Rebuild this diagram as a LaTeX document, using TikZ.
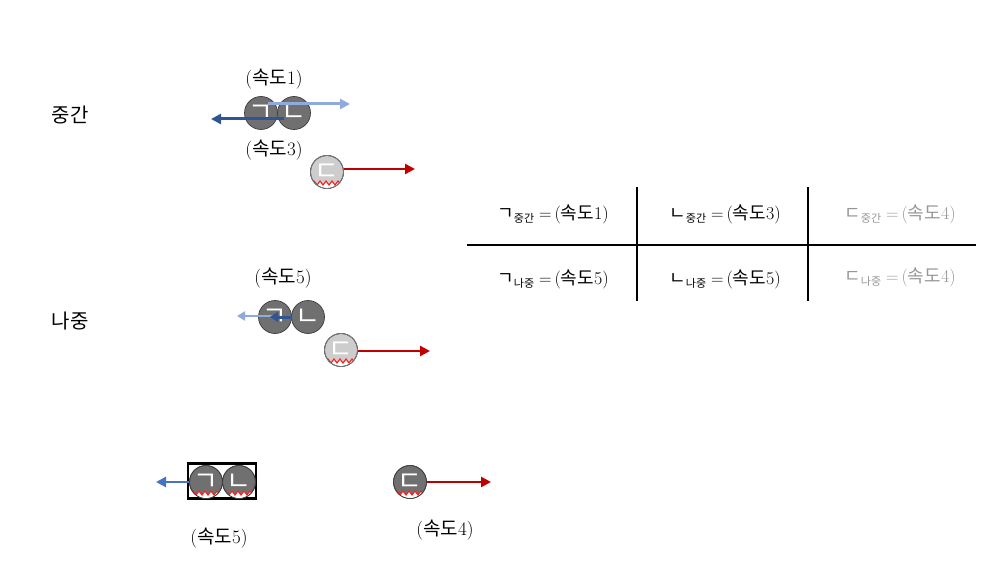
\documentclass[tikz,border=0pt]{standalone}
\usepackage{fontspec}
\newfontfamily\kr{Noto Sans CJK KR}
\usetikzlibrary{arrows.meta}
\definecolor{ballD}{RGB}{112,112,112}
\definecolor{ballL}{RGB}{205,205,205}
\definecolor{edgeD}{RGB}{60,60,60}
\definecolor{edgeL}{RGB}{120,120,120}
\definecolor{blueD}{RGB}{47,85,151}
\definecolor{blueL}{RGB}{143,170,220}
\definecolor{blueM}{RGB}{68,114,196}
\definecolor{redA}{RGB}{192,0,0}
\definecolor{zigred}{RGB}{255,30,30}
\definecolor{grayT}{RGB}{150,150,150}
\newcommand{\sdo}[1]{({\kr 속도}#1)}
\newcommand{\cell}[3]{{\kr #1}\raisebox{-0.45ex}{\fontsize{11}{12}\selectfont\kr #2}\;$=$\,\sdo{#3}}
\tikzset{
  ballD/.style={circle,fill=ballD,draw=edgeD,line width=0.7pt,minimum size=33pt,inner sep=0pt,
    text=white,font=\fontsize{27}{27}\selectfont\kr},
  ballL/.style={ballD,fill=ballL,draw=edgeL},
  lbl/.style={font=\fontsize{19}{22}\selectfont,inner sep=0pt},
  side/.style={font=\fontsize{20}{22}\selectfont\kr,inner sep=0pt},
  cellt/.style={font=\fontsize{18}{20}\selectfont,inner sep=0pt},
  arr/.style={line width=3pt,-{Triangle[length=10pt,width=10pt]}},
  zig/.pic={
    \begin{scope}
      \clip (0,0) circle (16.2);
      \fill[white] (-17,9) -- (-13,9) -- (-10,13) -- (-7,9) -- (-4,13) -- (-1,9) -- (2,13) -- (5,9) -- (8,13) -- (11,9) -- (14,13) -- (17,9) -- (17,20) -- (-17,20) -- cycle;
      \draw[zigred,line width=1.1pt] (-17,9) -- (-13,9) -- (-10,13) -- (-7,9) -- (-4,13) -- (-1,9) -- (2,13) -- (5,9) -- (8,13) -- (11,9) -- (14,13) -- (17,9);
    \end{scope}
    \draw[edgeD,line width=0.7pt] (0,0) circle (16.5);
  }
}
\begin{document}
\begin{tikzpicture}[x=1pt,y=-1pt]
\useasboundingbox (0,0) rectangle (1000,572);
% side labels
\node[side] (mid) at (70,115) {중간};
\node[side] (late) at (70,321) {나중};

% ---- top row (중간)
\node[lbl] (l1) at (274,79) {\sdo{1}};
\node[ballD] (t1) at (261,113) {ㄱ};
\node[ballD] (t2) at (294,113) {ㄴ};
\coordinate (t1s) at (268,104);
\coordinate (t1e) at (350,104);
\coordinate (t2s) at (284,119);
\coordinate (t2e) at (211,119);
\draw[arr,blueL] (t1s) -- (t1e);
\draw[arr,blueD] (t2s) -- (t2e);
\node[lbl] (l3) at (274,150) {\sdo{3}};
\node[ballL,draw=edgeL] (t3) at (327,172) {ㄷ};
\pic at (t3) {zig};
\draw[edgeL,line width=0.7pt] (t3) circle (16.5);
\coordinate (t3s) at (343.5,169);
\coordinate (t3e) at (415,169);
\draw[arr,redA,line width=2.6pt] (t3s) -- (t3e);

% ---- middle row (나중)
\node[lbl] (l5) at (283,278) {\sdo{5}};
\node[ballD] (m1) at (275,317) {ㄱ};
\node[ballD] (m2) at (308,317) {ㄴ};
\coordinate (m1s) at (276,316);
\coordinate (m1e) at (237,316);
\coordinate (m2s) at (292,317);
\coordinate (m2e) at (270,317);
\draw[arr,blueL,line width=2.6pt,-{Triangle[length=8pt,width=9pt]}] (m1s) -- (m1e);
\draw[arr,blueD,line width=3pt,-{Triangle[length=8pt,width=10pt]}] (m2s) -- (m2e);
\node[ballL] (m3) at (341,350) {ㄷ};
\pic at (m3) {zig};
\draw[edgeL,line width=0.7pt] (m3) circle (16.5);
\coordinate (m3s) at (357.5,351);
\coordinate (m3e) at (430,351);
\draw[arr,redA,line width=2.6pt] (m3s) -- (m3e);

% ---- bottom row
\node[draw=black,line width=2.2pt,minimum width=68pt,minimum height=35pt,inner sep=0pt] (box) at (222,481) {};
\node[ballD] (b1) at (206,482) {ㄱ};
\node[ballD] (b2) at (239,482) {ㄴ};
\pic at (b1) {zig};
\pic at (b2) {zig};
\coordinate (b1e) at (156,482);
\draw[arr,blueM,line width=2.8pt] (b1.west) -- (b1e);
\node[ballD] (b3) at (410,482) {ㄷ};
\pic at (b3) {zig};
\coordinate (b3e) at (491,482);
\draw[arr,redA,line width=2.6pt] (b3.east) -- (b3e);
\node[lbl] (l5b) at (219,538) {\sdo{5}};
\node[lbl] (l4b) at (445,530) {\sdo{4}};

% ---- table
\coordinate (hl) at (467,245);
\coordinate (hr) at (976,245);
\coordinate (v1t) at (637,187);
\coordinate (v1b) at (637,301);
\coordinate (v2t) at (808,187);
\coordinate (v2b) at (808,301);
\draw[line width=1.5pt] (hl) -- (hr);
\draw[line width=1.5pt] (v1t) -- (v1b);
\draw[line width=1.5pt] (v2t) -- (v2b);
\node[cellt] (c11) at (553,214) {\cell{ㄱ}{중간}{1}};
\node[cellt] (c12) at (725,214) {\cell{ㄴ}{중간}{3}};
\node[cellt,text=grayT] (c13) at (900,214) {\cell{ㄷ}{중간}{4}};
\node[cellt] (c21) at (553,279) {\cell{ㄱ}{나중}{5}};
\node[cellt] (c22) at (725,279) {\cell{ㄴ}{나중}{5}};
\node[cellt,text=grayT] (c23) at (900,277) {\cell{ㄷ}{나중}{4}};
\end{tikzpicture}
\end{document}
